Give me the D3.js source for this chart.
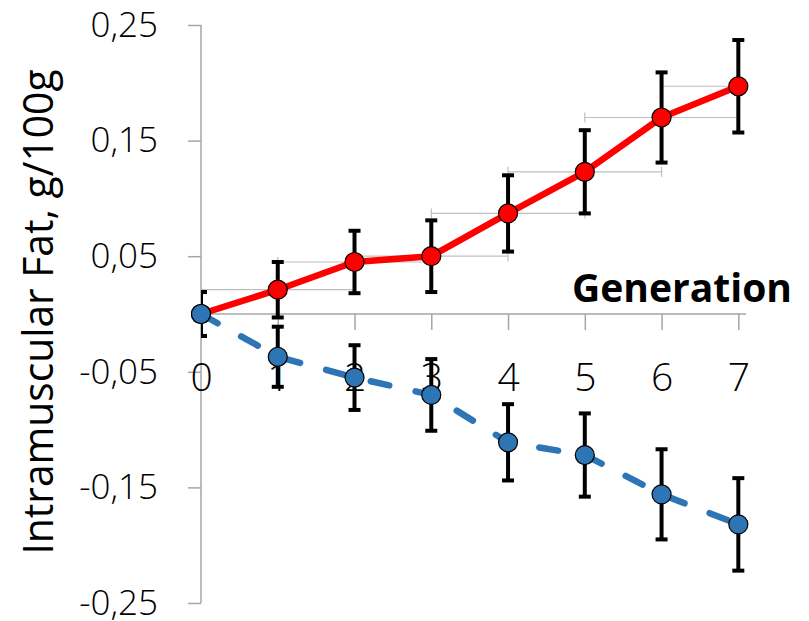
<!DOCTYPE html>
<html lang="en">
<head>
    <meta charset="UTF-8">
    <title>Intramuscular Fat by Generation</title>
    <script src="https://cdn.jsdelivr.net/npm/d3@7"></script>
    <style>
        body { margin: 0; background: #fff; }
        text { font-family: "Open Sans", "Noto Sans", sans-serif; }
    </style>
</head>
<body>
<svg width="809" height="621"></svg>
<script>

    const generations = [0, 1, 2, 3, 4, 5, 6, 7]
    const upValues   = [0, 0.021, 0.045, 0.050, 0.087, 0.123, 0.170, 0.197]
    const upErr      = [0.019, 0.024, 0.027, 0.031, 0.033, 0.036, 0.039, 0.040]
    const downValues = [0, -0.037, -0.055, -0.070, -0.111, -0.122, -0.156, -0.182]
    const downErr    = [0.019, 0.026, 0.028, 0.031, 0.033, 0.036, 0.039, 0.040]
    const yTicks = [0.25, 0.15, 0.05, -0.05, -0.15, -0.25]

    const svg = d3.select("svg")

    const x = d3.scaleLinear().domain([0, 7.1]).range([201, 746])
    const y = d3.scaleLinear().domain([-0.25, 0.25]).range([603, 25])
    // comma decimal, plain hyphen for the minus
    const fmt = d => d3.format(".2f")(d).replace(".", ",").replace("\u2212", "-")

    // clip for the x error bars
    svg.append("clipPath").attr("id", "plot")
        .append("rect")
        .attr("x", x(0)).attr("y", 0)
        .attr("width", x(7.1) - x(0)).attr("height", 621)

    // y axis
    const yAxis = svg.append("g")
        .attr("transform", `translate(${x(0)},0)`)
        .call(d3.axisLeft(y).tickValues(yTicks).tickFormat(fmt).tickSize(13).tickPadding(30))
    yAxis.selectAll("path, line").attr("stroke", "#a6a6a6").attr("stroke-width", 1.5)
    yAxis.select(".domain").attr("d", `M0,${y(0.25)}V${y(-0.25)}`)
    yAxis.selectAll("text").attr("font-size", 35).attr("font-weight", 300).attr("fill", "#000")
        .attr("font-family", "'Open Sans', sans-serif")

    // x axis at zero
    const xAxis = svg.append("g")
        .attr("transform", `translate(0,${y(0)})`)
        .call(d3.axisBottom(x).tickValues(generations).tickFormat(d3.format("d")).tickSize(16).tickPadding(33))
    xAxis.selectAll("path, line").attr("stroke", "#a6a6a6").attr("stroke-width", 1.5)
    xAxis.select(".domain").attr("d", `M${x(0)},0H${x(7.1)}`)
    xAxis.selectAll("text").attr("font-size", 39).attr("font-weight", 300).attr("fill", "#000")
        .attr("font-family", "'Open Sans', sans-serif")

    // axis titles
    svg.append("text")
        .attr("transform", `translate(53,312) rotate(-90)`)
        .attr("text-anchor", "middle")
        .attr("font-size", 42)
        .attr("textLength", 485).attr("lengthAdjust", "spacingAndGlyphs")
        .text("Intramuscular Fat, g/100g")

    svg.append("text")
        .attr("x", 572).attr("y", 302)
        .attr("font-size", 40).attr("font-weight", "bold")
        .attr("textLength", 220).attr("lengthAdjust", "spacingAndGlyphs")
        .text("Generation")

    const up = generations.map((g, i) => ({g: g, v: upValues[i], e: upErr[i]}))
    const down = generations.map((g, i) => ({g: g, v: downValues[i], e: downErr[i]}))

    // horizontal error bars (red series, +/- 1 generation)
    const xe = svg.append("g").attr("clip-path", "url(#plot)")
        .attr("stroke", "#bfbfbf").attr("stroke-width", 1.2)
    up.forEach(d => {
        xe.append("line").attr("x1", x(d.g - 1)).attr("x2", x(d.g + 1))
            .attr("y1", y(d.v)).attr("y2", y(d.v))
        ;[d.g - 1, d.g + 1].forEach(gg => {
            xe.append("line").attr("x1", x(gg)).attr("x2", x(gg))
                .attr("y1", y(d.v) - 5).attr("y2", y(d.v) + 5)
        })
    })

    const line = d3.line().x(d => x(d.g)).y(d => y(d.v))

    function errorBars(data) {
        const g = svg.append("g").attr("clip-path", "url(#plot)")
            .attr("stroke", "#000").attr("stroke-width", 4)
        data.forEach(d => {
            g.append("line").attr("x1", x(d.g)).attr("x2", x(d.g))
                .attr("y1", y(d.v + d.e)).attr("y2", y(d.v - d.e))
            ;[d.v + d.e, d.v - d.e].forEach(vv => {
                g.append("line").attr("x1", x(d.g) - 6).attr("x2", x(d.g) + 6)
                    .attr("y1", y(vv)).attr("y2", y(vv))
            })
        })
    }

    // red series
    svg.append("path").datum(up)
        .attr("d", line).attr("fill", "none")
        .attr("stroke", "#ff0000").attr("stroke-width", 6.5)
        .attr("stroke-linejoin", "round")
    errorBars(up)
    svg.append("g").selectAll("circle").data(up).join("circle")
        .attr("cx", d => x(d.g)).attr("cy", d => y(d.v)).attr("r", 9.5)
        .attr("fill", "#ff0000").attr("stroke", "#000").attr("stroke-width", 1.2)

    // blue series
    svg.append("path").datum(down)
        .attr("d", line).attr("fill", "none")
        .attr("stroke", "#2e75b6").attr("stroke-width", 6.5)
        .attr("stroke-dasharray", "19,27").attr("stroke-linecap", "round")
    errorBars(down)
    svg.append("g").selectAll("circle").data(down).join("circle")
        .attr("cx", d => x(d.g)).attr("cy", d => y(d.v)).attr("r", 9.5)
        .attr("fill", "#2e75b6").attr("stroke", "#000").attr("stroke-width", 1.2)

</script>
</body>
</html>
